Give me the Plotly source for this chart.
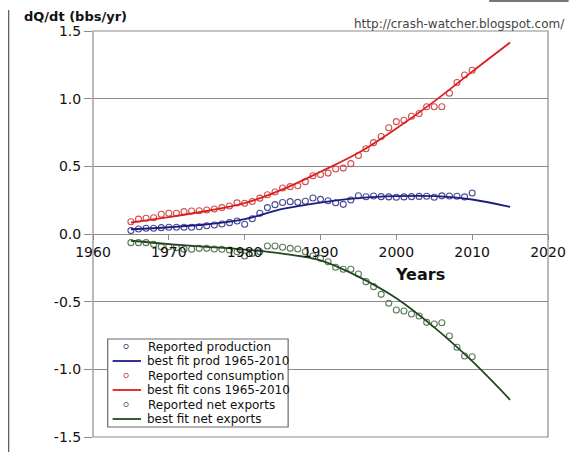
import plotly.graph_objects as go

# Reported annual values (billion barrels per year), 1965-2010
years = list(range(1965, 2011))

production = [
    0.025, 0.037, 0.042, 0.042, 0.047, 0.050, 0.050, 0.050, 0.050, 0.054,
    0.061, 0.066, 0.074, 0.084, 0.096, 0.072, 0.113, 0.153, 0.195, 0.217,
    0.233, 0.239, 0.234, 0.242, 0.266, 0.256, 0.246, 0.231, 0.219, 0.251,
    0.283, 0.275, 0.281, 0.276, 0.274, 0.272, 0.274, 0.276, 0.278, 0.279,
    0.272, 0.282, 0.281, 0.279, 0.274, 0.303,
]
consumption = [
    0.090, 0.110, 0.116, 0.120, 0.146, 0.153, 0.153, 0.165, 0.170, 0.172,
    0.177, 0.185, 0.195, 0.207, 0.230, 0.227, 0.240, 0.265, 0.290, 0.310,
    0.340, 0.350, 0.357, 0.387, 0.430, 0.440, 0.450, 0.480, 0.487, 0.520,
    0.580, 0.630, 0.675, 0.720, 0.785, 0.830, 0.840, 0.870, 0.890, 0.940,
    0.940, 0.940, 1.040, 1.120, 1.175, 1.210,
]
net_exports = [
    -0.064, -0.064, -0.064, -0.076, -0.094, -0.094, -0.101, -0.113, -0.113, -0.106,
    -0.106, -0.111, -0.113, -0.118, -0.131, -0.163, -0.143, -0.131, -0.089, -0.089,
    -0.098, -0.106, -0.111, -0.131, -0.163, -0.180, -0.205, -0.246, -0.261, -0.261,
    -0.296, -0.352, -0.389, -0.446, -0.512, -0.562, -0.569, -0.591, -0.606, -0.653,
    -0.665, -0.656, -0.754, -0.837, -0.902, -0.907,
]

# Best-fit curves, sampled every five years out to 2015
fit_years = [1965, 1970, 1975, 1980, 1985, 1990, 1995, 2000, 2005, 2010, 2015]
fit_prod = [0.035, 0.050, 0.072, 0.110, 0.185, 0.232, 0.265, 0.280, 0.280, 0.255, 0.200]
fit_cons = [0.085, 0.125, 0.170, 0.228, 0.330, 0.460, 0.600, 0.780, 0.980, 1.200, 1.415]
fit_net = [-0.050, -0.075, -0.095, -0.115, -0.145, -0.195, -0.315, -0.475, -0.690, -0.940, -1.225]

y_ticks = [1.5, 1.0, 0.5, 0.0, -0.5, -1.0, -1.5]
y_tick_text = ["1.5", "1.0", "0.5", "0.0", "-0.5", "-1.0", "-1.5"]
x_ticks = [1960, 1970, 1980, 1990, 2000, 2010, 2020]

legend_labels = [
    "Reported production", "best fit prod 1965-2010",
    "Reported consumption", "best fit cons 1965-2010",
    "Reported net exports", "best fit net exports",
]

BLUE_PT, BLUE_LN = "#4b4b8f", "#1c1c86"
RED_PT, RED_LN = "#d05050", "#e01e1e"
GRN_PT, GRN_LN = "#5d7a5d", "#1f4a1f"
GRID = "#8c8c8c"
FONT = "DejaVu Sans"

# plot-area geometry in page pixels
W, H = 578, 461
L, R, T, B = 93, 557, 31, 437


def px_x(px):
    return (px - L) / (R - L)


def px_y(py):
    return (B - py) / (B - T)


fig = go.Figure()


def add_points(y, color):
    fig.add_trace(go.Scatter(
        x=years, y=y, mode="markers", showlegend=False,
        marker=dict(symbol="circle-open", size=6, color=color, line=dict(width=1.1)),
    ))


def add_fit(y, color):
    fig.add_trace(go.Scatter(
        x=fit_years, y=y, mode="lines", showlegend=False,
        line=dict(color=color, width=1.8, shape="spline", smoothing=1.0),
    ))


add_points(production, BLUE_PT)
add_points(consumption, RED_PT)
add_points(net_exports, GRN_PT)
add_fit(fit_prod, BLUE_LN)
add_fit(fit_cons, RED_LN)
add_fit(fit_net, GRN_LN)

shapes = [
    # plot frame
    dict(type="rect", xref="paper", yref="paper", x0=0, x1=1, y0=0, y1=1,
         line=dict(color=GRID, width=1.2), layer="above"),
    # page rule at the far left
    dict(type="line", xref="paper", yref="paper", x0=px_x(7), x1=px_x(7),
         y0=px_y(10), y1=px_y(452), line=dict(color="#555555", width=1.2)),
    # thin dark band at the top right
    dict(type="rect", xref="paper", yref="paper", x0=px_x(497), x1=px_x(578),
         y0=px_y(2), y1=px_y(0), line=dict(width=0), fillcolor="#777777"),
    # legend box
    dict(type="rect", xref="paper", yref="paper", x0=px_x(108), x1=px_x(292),
         y0=px_y(427), y1=px_y(339), fillcolor="white",
         line=dict(color="#6a6a6a", width=1.2), layer="above"),
]

annotations = []
row_y = [346.5, 361, 375.5, 390, 404.5, 419]
legend_colors = [BLUE_PT, BLUE_LN, RED_PT, RED_LN, GRN_PT, GRN_LN]
for i, (label, ry, col) in enumerate(zip(legend_labels, row_y, legend_colors)):
    if i % 2 == 0:
        shapes.append(dict(type="circle", xref="paper", yref="paper",
                           x0=px_x(124.5), x1=px_x(129), y0=px_y(ry + 2.2), y1=px_y(ry - 2.2),
                           line=dict(color=col, width=1), layer="above"))
        tx = 147
    else:
        shapes.append(dict(type="line", xref="paper", yref="paper",
                           x0=px_x(113), x1=px_x(142), y0=px_y(ry), y1=px_y(ry),
                           line=dict(color=col, width=1.8), layer="above"))
        tx = 146
    annotations.append(dict(
        text=label, xref="paper", yref="paper", x=px_x(tx), y=px_y(ry),
        xanchor="left", yanchor="middle", showarrow=False,
        font=dict(family=FONT, size=12, color="#111111"),
    ))

annotations += [
    dict(text="<b>dQ/dt (bbs/yr)</b>", xref="paper", yref="paper",
         x=px_x(21), y=px_y(16), xanchor="left", yanchor="middle", showarrow=False,
         font=dict(family=FONT, size=13, color="#111111")),
    dict(text="http://crash-watcher.blogspot.com/", xref="paper", yref="paper",
         x=px_x(576), y=px_y(24), xanchor="right", yanchor="middle", showarrow=False,
         font=dict(family=FONT, size=12, color="#444444")),
    dict(text="<b>Years</b>", xref="paper", yref="paper",
         x=px_x(426.5), y=px_y(274), xanchor="center", yanchor="middle", showarrow=False,
         font=dict(family=FONT, size=16, color="#111111")),
]

fig.update_layout(
    width=W, height=H,
    margin=dict(l=L, r=W - R, t=T, b=H - B, pad=0),
    paper_bgcolor="white", plot_bgcolor="white",
    showlegend=False,
    shapes=shapes, annotations=annotations,
    xaxis=dict(
        range=[1960, 2020], tickvals=x_ticks, showgrid=False, zeroline=False,
        showline=False, anchor="free", position=0.5, side="bottom",
        ticks="outside", ticklen=5, tickcolor=GRID, tickwidth=1,
        tickfont=dict(family=FONT, size=14, color="#111111"),
    ),
    yaxis=dict(
        range=[-1.5, 1.5], tickvals=y_ticks, ticktext=y_tick_text,
        showgrid=True, gridcolor=GRID, gridwidth=1.2, zeroline=False,
        showline=False, ticks="outside", ticklen=8, tickcolor=GRID,
        tickfont=dict(family=FONT, size=14, color="#111111"),
    ),
)

fig.write_html("out.html")
